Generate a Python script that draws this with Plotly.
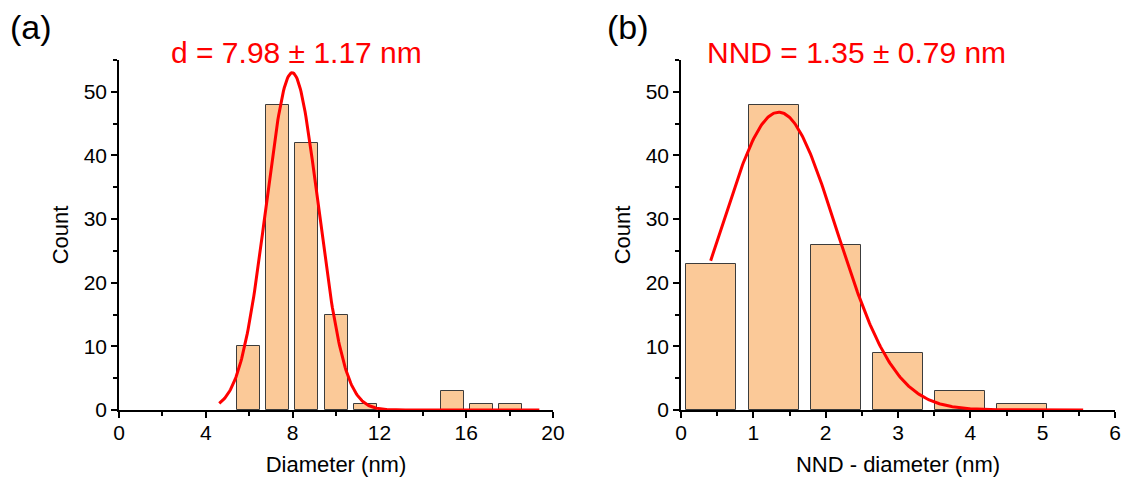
import numpy as np
import plotly.graph_objects as go

# ---------------- data ----------------
# Panel (a): particle diameter histogram
d_bin_centers = [5.98, 7.32, 8.66, 10.00, 11.34, 12.68, 14.02, 15.36, 16.70, 18.04]
d_counts = [10, 48, 42, 15, 1, 0, 0, 3, 1, 1]
d_bar_width = 1.06
# Gaussian fit parameters for (a)
d_fit_center = 7.98
d_fit_sigma = 1.20
d_fit_amp = 53.0
d_fit_span = [4.62, 19.37]

# Panel (b): NND - diameter histogram
nnd_bin_centers = [0.42, 1.28, 2.14, 3.00, 3.86, 4.72]
nnd_counts = [23, 48, 26, 9, 3, 1]
nnd_bar_width = 0.69
# Gaussian fit parameters for (b)
nnd_fit_center = 1.35
nnd_fit_sigma = 0.80
nnd_fit_amp = 46.8
nnd_fit_span = [0.41, 5.56]

titles = ["d = 7.98 ± 1.17 nm", "NND = 1.35 ± 0.79 nm"]
panel_labels = ["(a)", "(b)"]
x_titles = ["Diameter (nm)", "NND - diameter (nm)"]
y_title = "Count"

# ---------------- figure ----------------
W, H = 1121, 477
FONT = "Liberation Sans, Arial, Helvetica, sans-serif"
BAR_FILL = "#FBC998"
BAR_LINE = "#3c3c3c"


def gauss_curve(center, sigma, amp, span):
    x = np.linspace(span[0], span[1], 400)
    y = amp * np.exp(-((x - center) ** 2) / (2 * sigma ** 2))
    return x, y


fig = go.Figure()

fig.add_trace(go.Bar(x=d_bin_centers, y=d_counts, width=d_bar_width,
                     marker=dict(color=BAR_FILL, line=dict(color=BAR_LINE, width=1)),
                     xaxis="x", yaxis="y", showlegend=False))
xa, ya = gauss_curve(d_fit_center, d_fit_sigma, d_fit_amp, d_fit_span)
fig.add_trace(go.Scatter(x=xa, y=ya, mode="lines", line=dict(color="#FF0000", width=3),
                         xaxis="x", yaxis="y", showlegend=False, cliponaxis=False))

fig.add_trace(go.Bar(x=nnd_bin_centers, y=nnd_counts, width=nnd_bar_width,
                     marker=dict(color=BAR_FILL, line=dict(color=BAR_LINE, width=1)),
                     xaxis="x2", yaxis="y2", showlegend=False))
xb, yb = gauss_curve(nnd_fit_center, nnd_fit_sigma, nnd_fit_amp, nnd_fit_span)
fig.add_trace(go.Scatter(x=xb, y=yb, mode="lines", line=dict(color="#FF0000", width=3),
                         xaxis="x2", yaxis="y2", showlegend=False, cliponaxis=False))

tickfont = dict(family=FONT, size=21, color="black")
titlefont = dict(family=FONT, size=22, color="black")
common = dict(showline=True, linecolor="black", linewidth=1.5, ticks="outside",
              ticklen=6, tickwidth=1.5, tickcolor="black", showgrid=False,
              zeroline=False, tickfont=tickfont, fixedrange=True, automargin=False)

y_dom = [(H - 410) / H, (H - 60) / H]

fig.update_layout(
    width=W, height=H,
    margin=dict(l=0, r=0, t=0, b=0, autoexpand=False),
    paper_bgcolor="white", plot_bgcolor="white",
    bargap=0,
    xaxis=dict(**common, domain=[119 / W, 553 / W], range=[0, 20], dtick=4, tick0=0,
               ticklabelstandoff=-3,
               minor=dict(dtick=2, ticks="outside", ticklen=4, tickwidth=1.5, tickcolor="black"),
               title=dict(text=x_titles[0], font=titlefont, standoff=17), anchor="y"),
    yaxis=dict(**common, domain=y_dom, range=[0, 55], dtick=10, tick0=0,
               minor=dict(dtick=5, ticks="outside", ticklen=4, tickwidth=1.5, tickcolor="black"),
               title=dict(text=y_title, font=titlefont, standoff=9), anchor="x"),
    xaxis2=dict(**common, domain=[681 / W, 1115 / W], range=[0, 6], dtick=1, tick0=0,
                ticklabelstandoff=-3,
                minor=dict(dtick=0.5, ticks="outside", ticklen=4, tickwidth=1.5, tickcolor="black"),
                title=dict(text=x_titles[1], font=titlefont, standoff=17), anchor="y2"),
    yaxis2=dict(**common, domain=y_dom, range=[0, 55], dtick=10, tick0=0,
                minor=dict(dtick=5, ticks="outside", ticklen=4, tickwidth=1.5, tickcolor="black"),
                title=dict(text=y_title, font=titlefont, standoff=9), anchor="x2"),
)

annots = [
    dict(text=panel_labels[0], x=8 / W, y=1 - 27 / H, xanchor="left", yanchor="middle",
         font=dict(family=FONT, size=34, color="black")),
    dict(text=titles[0], x=296 / W, y=1 - 52 / H, xanchor="center", yanchor="middle",
         font=dict(family=FONT, size=30, color="#FF0000")),
    dict(text=panel_labels[1], x=605 / W, y=1 - 27 / H, xanchor="left", yanchor="middle",
         font=dict(family=FONT, size=34, color="black")),
    dict(text=titles[1], x=856 / W, y=1 - 52 / H, xanchor="center", yanchor="middle",
         font=dict(family=FONT, size=30, color="#FF0000")),
]
for a in annots:
    fig.add_annotation(xref="paper", yref="paper", showarrow=False, **a)

fig.write_html("out.html", config={"displayModeBar": False},
               post_script="document.body.style.margin='0';document.body.style.overflow='hidden';")
